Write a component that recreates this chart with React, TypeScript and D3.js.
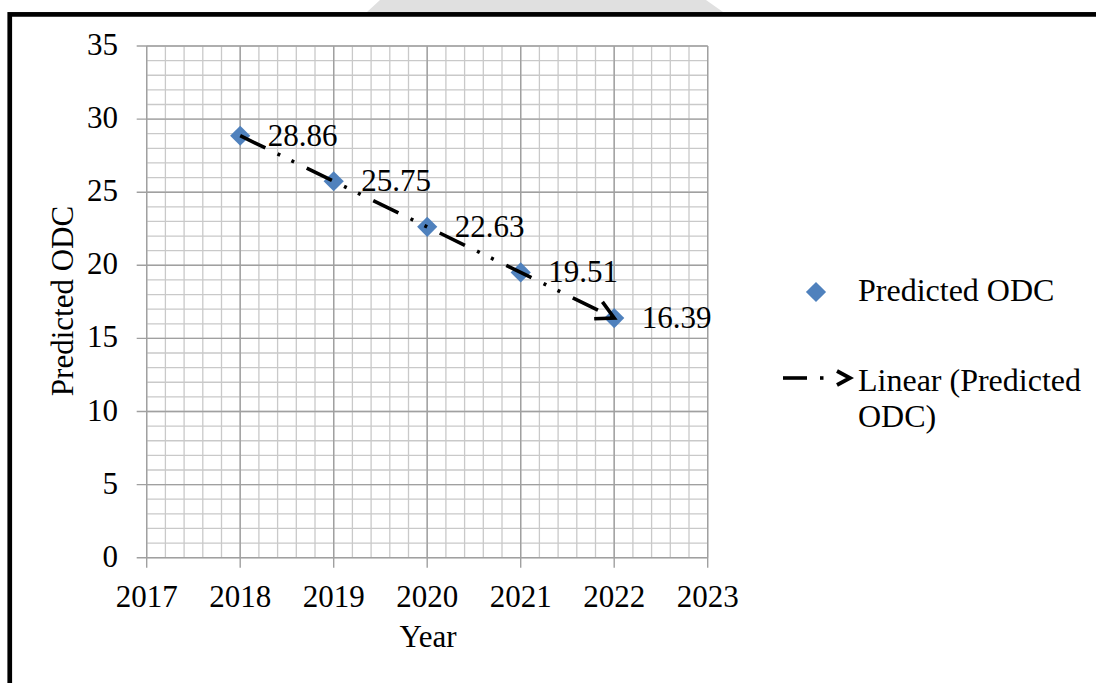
import React from "react";
import * as d3 from "d3";

const years = [2018, 2019, 2020, 2021, 2022];
const predictedODC = [28.86, 25.75, 22.63, 19.51, 16.39];
const labels = ["28.86", "25.75", "22.63", "19.51", "16.39"];
const xTicks = [2017, 2018, 2019, 2020, 2021, 2022, 2023];
const yTicks = [0, 5, 10, 15, 20, 25, 30, 35];
const seriesName = "Predicted ODC";
const trendName1 = "Linear (Predicted";
const trendName2 = "ODC)";

const W = 1096;
const H = 683;
const FONT = "'Liberation Serif', 'Times New Roman', serif";
const FS = 31;
const LFS = 32;
const BLUE = "#4f81bd";

export default function App() {
  const x = d3.scaleLinear().domain([2017, 2023]).range([146.7, 707.7]);
  const y = d3.scaleLinear().domain([0, 35]).range([557.7, 46]);

  const xMinor = d3.range(2017, 2023.001, 0.2);
  const yMinor = d3.range(0, 35.001, 1);

  // linear regression trendline
  const n = years.length;
  const mx = d3.mean(years)!;
  const my = d3.mean(predictedODC)!;
  const slope =
    d3.sum(years.map((v, i) => (v - mx) * (predictedODC[i] - my))) /
    d3.sum(years.map((v) => (v - mx) * (v - mx)));
  const icpt = my - slope * mx;
  const tx0 = years[0];
  const tx1 = years[n - 1];
  const p0: [number, number] = [x(tx0), y(icpt + slope * tx0)];
  const p1: [number, number] = [x(tx1), y(icpt + slope * tx1)];
  const line = d3.line()([p0, p1])!;
  const ang = Math.atan2(p1[1] - p0[1], p1[0] - p0[0]);
  const armLen = 20;
  const half = (28 * Math.PI) / 180;
  const back = ang + Math.PI;
  const a1: [number, number] = [p1[0] + armLen * Math.cos(back - half), p1[1] + armLen * Math.sin(back - half)];
  const a2: [number, number] = [p1[0] + armLen * Math.cos(back + half), p1[1] + armLen * Math.sin(back + half)];
  const arrow = d3.line()([a1, p1, a2])!;

  const diamond = d3.symbol().type(d3.symbolDiamond2).size(260)()!;

  const dash = "28 13.5 3 12.5 3 14";

  return (
    <svg
      width={W}
      height={H}
      style={{ position: "absolute", left: 0, top: 0, background: "#fff" }}
      fontFamily={FONT}
    >
      <rect x={0} y={0} width={W} height={H} fill="#fff" />
      <polygon points="380,0 706,0 723,12 367,12" fill="#e0e0e0" />
      <rect x={9.75} y={14.4} width={1300} height={1000} fill="none" stroke="#000" strokeWidth={4.7} />

      {/* minor grid */}
      <g stroke="#c9c9c9" strokeWidth={1.3}>
        {xMinor.map((v, i) => (
          <line key={"xm" + i} x1={x(v)} x2={x(v)} y1={y(0)} y2={y(35)} />
        ))}
        {yMinor.map((v, i) => (
          <line key={"ym" + i} x1={x(2017)} x2={x(2023)} y1={y(v)} y2={y(v)} />
        ))}
      </g>
      {/* major grid + ticks */}
      <g stroke="#a0a0a0" strokeWidth={1.4}>
        {xTicks.map((v) => (
          <line key={"xM" + v} x1={x(v)} x2={x(v)} y1={y(0) + 10} y2={y(35)} />
        ))}
        {yTicks.map((v) => (
          <line key={"yM" + v} x1={x(2017) - 10} x2={x(2023)} y1={y(v)} y2={y(v)} />
        ))}
      </g>

      {/* tick labels */}
      <g fontSize={FS} fill="#000">
        {yTicks.map((v) => (
          <text key={"yl" + v} x={118} y={y(v) + 9} textAnchor="end">
            {v}
          </text>
        ))}
        {xTicks.map((v) => (
          <text key={"xl" + v} x={x(v)} y={607} textAnchor="middle">
            {v}
          </text>
        ))}
        <text x={428} y={647} textAnchor="middle">Year</text>
        <text transform={`translate(73,301) rotate(-90)`} textAnchor="middle">
          {seriesName}
        </text>
      </g>

      {/* markers */}
      {years.map((v, i) => (
        <path key={"m" + v} d={diamond} transform={`translate(${x(v)},${y(predictedODC[i])})`} fill={BLUE} />
      ))}

      {/* trendline */}
      <path d={line} stroke="#000" strokeWidth={3.6} strokeDasharray={dash} fill="none" />
      <path d={arrow} stroke="#000" strokeWidth={3.6} fill="none" strokeLinejoin="miter" />

      {/* data labels */}
      <g fontSize={FS} fill="#000">
        {years.map((v, i) => (
          <text key={"dl" + v} x={x(v) + 27.5} y={y(predictedODC[i]) + 10}>
            {labels[i]}
          </text>
        ))}
      </g>

      {/* legend */}
      <path d={diamond} transform="translate(816,292)" fill={BLUE} />
      <text x={858} y={301} fontSize={LFS}>{seriesName}</text>
      <line x1={783} x2={807} y1={378} y2={378} stroke="#000" strokeWidth={3.6} />
      <line x1={820} x2={823.5} y1={378} y2={378} stroke="#000" strokeWidth={3.6} />
      <path d="M837,371 L850,378 L837,385" stroke="#000" strokeWidth={3.8} fill="none" />
      <text x={858} y={391} fontSize={LFS}>{trendName1}</text>
      <text x={858} y={427} fontSize={LFS}>{trendName2}</text>
    </svg>
  );
}
